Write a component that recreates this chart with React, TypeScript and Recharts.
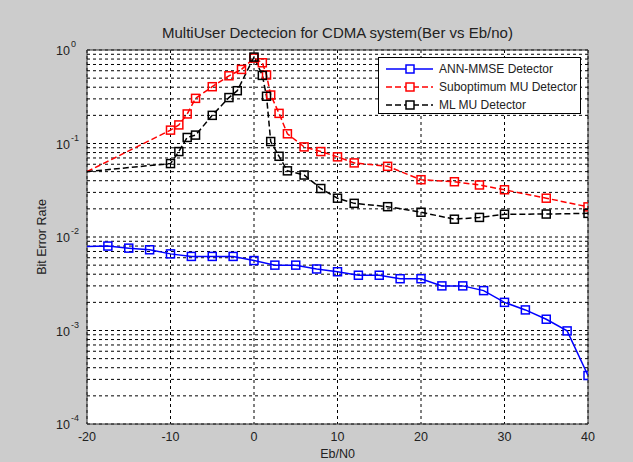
import React from "react";
import {
  LineChart,
  Line,
  XAxis,
  YAxis,
  CartesianGrid,
  ReferenceLine,
  ReferenceArea,
  Legend,
  Label,
} from "recharts";

// Eb/N0 values (dB) and bit error rates
const annSnr = [-20, -17.5, -15, -12.5, -10, -7.5, -5, -2.5, 0, 2.5, 5, 7.5, 10, 12.5, 15, 17.5, 20, 22.5, 25, 27.5, 30, 32.5, 35, 37.5, 40];
const annBer = [0.0079, 0.008, 0.0076, 0.0073, 0.0066, 0.0062, 0.0062, 0.0062, 0.0056, 0.005, 0.005, 0.00455, 0.00425, 0.0039, 0.0039, 0.00358, 0.00358, 0.003, 0.003, 0.00267, 0.002, 0.00166, 0.00132, 0.00099, 0.00033];

const subSnr = [-20, -10, -9, -8, -7, -5, -3, -1.5, 0, 1, 1.5, 2, 3, 4, 6, 8, 10, 12, 16, 20, 24, 27, 30, 35, 40];
const subBer = [0.05, 0.139, 0.158, 0.207, 0.304, 0.405, 0.53, 0.62, 0.82, 0.73, 0.54, 0.33, 0.21, 0.127, 0.092, 0.082, 0.072, 0.062, 0.057, 0.041, 0.039, 0.036, 0.032, 0.026, 0.021];

const mlSnr = [-20, -10, -9, -8, -7, -5, -3, -2, 0, 1, 1.5, 2, 3, 4, 6, 8, 10, 12, 16, 20, 24, 27, 30, 35, 40];
const mlBer = [0.05, 0.061, 0.082, 0.116, 0.123, 0.2, 0.31, 0.367, 0.84, 0.535, 0.32, 0.105, 0.073, 0.051, 0.046, 0.033, 0.026, 0.0229, 0.0211, 0.0184, 0.0155, 0.0162, 0.0175, 0.0176, 0.0179];

const xTicks = [-20, -10, 0, 10, 20, 30, 40];
const decadeTicks = [1e-4, 1e-3, 1e-2, 1e-1, 1];
const minorSteps = [2, 3, 4, 5, 6, 7, 8, 9];

const FONT = "'Liberation Sans', Arial, sans-serif";

const toRows = (snr: number[], ber: number[]) =>
  snr.map((s, i) => ({ snr: s, ber: ber[i] }));

const annData = toRows(annSnr, annBer);
const subData = toRows(subSnr, subBer);
const mlData = toRows(mlSnr, mlBer);

const minorLines: number[] = [];
decadeTicks.slice(0, 4).forEach((d) => minorSteps.forEach((m) => minorLines.push(d * m)));

const series = [
  { name: "ANN-MMSE Detector", color: "#0000ff", dash: undefined, data: annData },
  { name: "Suboptimum MU Detector", color: "#ff0000", dash: "6 3", data: subData },
  { name: "ML MU Detector", color: "#000000", dash: "6 3", data: mlData },
];

const squareDot = (color: string) => (props: any) => {
  const { cx, cy, payload, index } = props;
  if (payload.snr <= -20 || cx == null) return <g key={`d-${index}`} />;
  return (
    <rect
      key={`d-${index}`}
      x={cx - 4}
      y={cy - 4}
      width={8}
      height={8}
      fill="none"
      stroke={color}
      strokeWidth={1.5}
    />
  );
};

function YTick({ x, y, payload }: any) {
  const exp = Math.round(Math.log10(payload.value));
  return (
    <g fontFamily={FONT} fill="#222">
      <text x={x - 9} y={y + 5} fontSize={12.5} textAnchor="end">
        10
      </text>
      <text x={x - 8} y={y - 3} fontSize={9} textAnchor="start">
        {exp}
      </text>
    </g>
  );
}

function LegendBox() {
  return (
    <div
      style={{
        background: "#fff",
        border: "1px solid #000",
        width: 203,
        height: 57,
        boxSizing: "border-box",
        paddingTop: 2,
        fontFamily: FONT,
        fontSize: 12,
        color: "#222",
      }}
    >
      {series.map((s) => (
        <div key={s.name} style={{ display: "flex", alignItems: "center", height: 18 }}>
          <svg width={60} height={18}>
            <line x1={7} x2={54} y1={9} y2={9} stroke={s.color} strokeWidth={1.5} strokeDasharray={s.dash} />
            <rect x={27} y={5} width={8} height={8} fill="#fff" stroke={s.color} strokeWidth={1.5} />
          </svg>
          <span style={{ whiteSpace: "nowrap" }}>{s.name}</span>
        </div>
      ))}
    </div>
  );
}

export default function App() {
  return (
    <div
      style={{
        position: "absolute",
        left: 0,
        top: 0,
        width: 633,
        height: 462,
        background: "#cccccc",
        overflow: "hidden",
      }}
    >
      <div
        style={{
          position: "absolute",
          top: 24,
          left: 87,
          width: 501,
          textAlign: "center",
          fontFamily: FONT,
          fontSize: 15,
          color: "#222",
        }}
      >
        MultiUser Dectecion for CDMA system(Ber vs Eb/no)
      </div>
      <LineChart
        width={633}
        height={462}
        margin={{ top: 50, right: 45, bottom: 2, left: 27 }}
      >
        <CartesianGrid fill="#ffffff" stroke="#000" strokeDasharray="3 3" horizontal={true} vertical={true} />
        {minorLines.map((v) => (
          <ReferenceLine key={v} y={v} stroke="#000" strokeDasharray="3 3" strokeWidth={1} />
        ))}
        <XAxis
          type="number"
          dataKey="snr"
          domain={[-20, 40]}
          ticks={xTicks}
          allowDataOverflow
          axisLine={false}
          tickLine={false}
          height={36}
          tick={{ fontSize: 12.5, fill: "#222", fontFamily: FONT }}
        >
          <Label value="Eb/N0" position="insideBottom" offset={2} style={{ fontSize: 12.5, fill: "#222", fontFamily: FONT }} />
        </XAxis>
        <YAxis
          type="number"
          scale="log"
          domain={[1e-4, 1]}
          ticks={decadeTicks}
          allowDataOverflow
          axisLine={false}
          tickLine={false}
          width={60}
          tick={<YTick />}
        >
          <Label
            content={({ viewBox }: any) => (
              <text
                x={viewBox.x + 19}
                y={viewBox.y + viewBox.height / 2}
                transform={`rotate(-90 ${viewBox.x + 19} ${viewBox.y + viewBox.height / 2})`}
                textAnchor="middle"
                fontSize={12.5}
                fill="#222"
                fontFamily={FONT}
              >
                Bit Error Rate
              </text>
            )}
          />
        </YAxis>
        <ReferenceArea x1={-20} x2={40} y1={1e-4} y2={1} fill="none" stroke="#333" strokeWidth={1} />
        {series.map((s) => (
          <Line
            key={s.name}
            name={s.name}
            data={s.data}
            dataKey="ber"
            type="linear"
            stroke={s.color}
            strokeWidth={1.5}
            strokeDasharray={s.dash}
            dot={squareDot(s.color)}
            activeDot={false}
            isAnimationActive={false}
          />
        ))}
        <Legend
          layout="vertical"
          align="center"
          verticalAlign="middle"
          content={() => <LegendBox />}
          wrapperStyle={{ left: 378, top: 57, width: 203, height: 57 }}
        />
      </LineChart>
    </div>
  );
}
